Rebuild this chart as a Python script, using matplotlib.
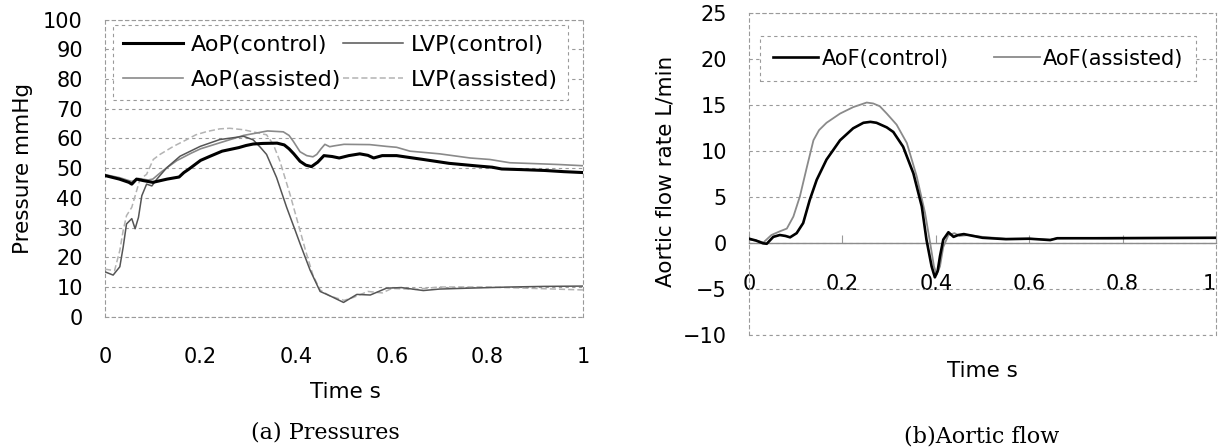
import matplotlib
matplotlib.use("Agg")
import matplotlib.pyplot as plt
import numpy as np

# ---------------- data ----------------
t_aop_ctrl = [0.00, 0.03, 0.05, 0.056, 0.066, 0.08, 0.10, 0.13, 0.155, 0.165, 0.175, 0.20,
              0.22, 0.245, 0.28, 0.295, 0.31, 0.33, 0.36, 0.375, 0.385, 0.395, 0.408, 0.42,
              0.432, 0.445, 0.458, 0.475, 0.49, 0.51, 0.533, 0.55, 0.562, 0.58, 0.61, 0.64,
              0.666, 0.72, 0.78, 0.81, 0.83, 0.87, 0.92, 0.96, 1.00]
aop_ctrl = [47.5, 46.3, 45.2, 44.6, 46.3, 45.8, 45.2, 46.3, 47.0, 48.5, 49.6, 52.6,
            54.0, 55.7, 56.9, 57.6, 58.1, 58.3, 58.4, 57.8, 56.5, 54.8, 52.3, 51.0,
            50.5, 52.0, 54.2, 53.9, 53.4, 54.2, 54.8, 54.3, 53.4, 54.2, 54.2, 53.5,
            52.9, 51.6, 50.7, 50.3, 49.7, 49.5, 49.2, 48.8, 48.5]

t_lvp_ctrl = [0.00, 0.017, 0.031, 0.038, 0.045, 0.056, 0.063, 0.070, 0.077, 0.087, 0.098,
              0.108, 0.129, 0.157, 0.199, 0.24, 0.29, 0.31, 0.325, 0.338, 0.359, 0.38,
              0.398, 0.408, 0.429, 0.45, 0.471, 0.499, 0.527, 0.555, 0.589, 0.62, 0.666,
              0.70, 0.76, 0.85, 0.92, 1.00]
lvp_ctrl = [15.1, 14.0, 16.8, 23.4, 31.2, 33.0, 29.6, 33.4, 40.7, 44.6, 44.0,
            46.2, 50.1, 54.0, 57.3, 59.6, 60.7, 59.5, 57.0, 54.6, 46.8, 36.8,
            29.0, 24.6, 15.7, 8.5, 7.0, 4.8, 7.5, 7.3, 9.6, 9.8, 8.8,
            9.3, 9.6, 10.0, 10.2, 10.3]

t_aop_asst = [0.00, 0.03, 0.056, 0.07, 0.09, 0.10, 0.12, 0.15, 0.18, 0.20, 0.24, 0.27,
              0.29, 0.317, 0.34, 0.373, 0.385, 0.394, 0.408, 0.422, 0.435, 0.443, 0.452,
              0.46, 0.47, 0.48, 0.50, 0.554, 0.589, 0.61, 0.638, 0.70, 0.764, 0.805,
              0.847, 0.90, 0.95, 1.00]
aop_asst = [47.8, 46.8, 45.5, 46.5, 46.0, 46.3, 49.0, 52.5, 55.0, 56.5, 58.5, 60.0,
            61.0, 61.8, 62.5, 62.2, 61.0, 59.0, 55.5, 54.2, 53.8, 54.6, 56.5,
            58.0, 57.2, 57.5, 58.0, 57.9, 57.3, 57.0, 55.7, 54.8, 53.4, 52.9,
            51.8, 51.5, 51.2, 50.8]

t_lvp_asst = [0.00, 0.02, 0.031, 0.038, 0.045, 0.056, 0.066, 0.073, 0.087, 0.101, 0.115,
              0.143, 0.17, 0.19, 0.213, 0.24, 0.261, 0.29, 0.338, 0.352, 0.366, 0.387,
              0.408, 0.42, 0.435, 0.45, 0.47, 0.50, 0.52, 0.55, 0.58, 0.60, 0.65, 0.70,
              0.80, 0.90, 1.00]
lvp_asst = [16.0, 15.5, 22.3, 29.0, 34.0, 36.8, 42.3, 46.2, 47.9, 52.9, 54.6,
            57.3, 59.5, 61.2, 62.3, 63.2, 63.4, 62.9, 61.2, 58.0, 52.3, 41.2,
            29.0, 22.0, 14.0, 9.0, 7.0, 5.5, 6.5, 8.5, 8.0, 9.5, 9.2, 10.0,
            10.0, 9.5, 9.0]

t_aof_ctrl = [0.000, 0.015, 0.030, 0.038, 0.052, 0.066, 0.078, 0.088, 0.102, 0.116, 0.130,
              0.145, 0.166, 0.195, 0.223, 0.245, 0.26, 0.273, 0.295, 0.309, 0.330, 0.352,
              0.370, 0.380, 0.391, 0.398, 0.404, 0.409, 0.416, 0.427, 0.438, 0.448, 0.46,
              0.48, 0.50, 0.55, 0.60, 0.645, 0.66, 0.77, 0.90, 1.00]
aof_ctrl = [0.5, 0.3, 0.0, -0.05, 0.7, 0.9, 0.8, 0.65, 1.1, 2.2, 4.7,
            6.9, 9.1, 11.2, 12.5, 13.1, 13.2, 13.1, 12.6, 12.1, 10.5, 7.6,
            4.0, 0.4, -2.5, -3.7, -3.0, -1.4, 0.4, 1.2, 0.7, 0.9, 1.0,
            0.8, 0.6, 0.45, 0.5, 0.35, 0.55, 0.55, 0.58, 0.6]

t_aof_asst = [0.000, 0.015, 0.031, 0.048, 0.066, 0.081, 0.095, 0.109, 0.124, 0.138, 0.15,
              0.166, 0.195, 0.223, 0.252, 0.266, 0.28, 0.295, 0.316, 0.338, 0.359, 0.377,
              0.388, 0.396, 0.402, 0.409, 0.416, 0.427, 0.44, 0.451, 0.47, 0.50, 0.55,
              0.60, 0.645, 0.66, 0.77, 1.00]
aof_asst = [0.4, 0.3, 0.1, 0.9, 1.3, 1.6, 2.9, 5.1, 8.3, 11.2, 12.3,
            13.1, 14.1, 14.8, 15.3, 15.2, 14.9, 14.1, 12.9, 10.9, 7.3, 3.3,
            0.0, -2.5, -3.4, -2.5, -0.4, 0.9, 1.1, 0.8, 0.9, 0.7, 0.5,
            0.5, 0.4, 0.55, 0.6, 0.6]

x_ticks = [0, 0.2, 0.4, 0.6, 0.8, 1]
x_ticklabels = ["0", "0.2", "0.4", "0.6", "0.8", "1"]
p_ticks = list(range(0, 101, 10))
f_ticks = list(range(-10, 26, 5))

# ---------------- figure ----------------
W, H = 1218, 447
plt.rcParams['font.family'] = ['DejaVu Sans']
fig = plt.figure(figsize=(W / 100, H / 100), dpi=100)

GRID = '#9a9a9a'
DASH = (0, (3, 3))

def px_axes(x0, x1, ytop, ybot):
    return fig.add_axes([x0 / W, (H - ybot) / H, (x1 - x0) / W, (ybot - ytop) / H])

def dashed_frame(leg):
    fr = leg.get_frame()
    fr.set_edgecolor(GRID)
    fr.set_linestyle(DASH)
    fr.set_linewidth(0.8)

# ----- (a) pressures -----
ax1 = px_axes(105, 583, 19.5, 316.7)
ax1.plot(t_lvp_asst, lvp_asst, color='#b3b3b3', lw=1.1, ls=(0, (4, 2)), label='LVP(assisted)', zorder=3)
ax1.plot(t_aop_asst, aop_asst, color='#8a8a8a', lw=1.2, label='AoP(assisted)', zorder=4)
ax1.plot(t_lvp_ctrl, lvp_ctrl, color='#555555', lw=1.1, label='LVP(control)', zorder=4)
ax1.plot(t_aop_ctrl, aop_ctrl, color='black', lw=2.2, label='AoP(control)', zorder=5)
ax1.set_xlim(0, 1)
ax1.set_ylim(0, 100)
ax1.set_xticks(x_ticks)
ax1.set_xticklabels(x_ticklabels)
ax1.set_yticks(p_ticks)
ax1.tick_params(axis='both', length=0, labelsize=15)
ax1.tick_params(axis='x', pad=22)
ax1.tick_params(axis='y', pad=16)
ax1.yaxis.grid(True, color=GRID, lw=0.8, ls=DASH)
for s in ax1.spines.values():
    s.set_color(GRID)
    s.set_linewidth(0.8)
    s.set_linestyle(DASH)
ax1.set_xlabel('Time s', fontsize=15.5, va='center')
ax1.xaxis.set_label_coords(0.502, -0.255)
ax1.set_ylabel('Pressure mmHg', fontsize=15.5, va='center')
ax1.yaxis.set_label_coords(-0.171, 0.5)

h, l = ax1.get_legend_handles_labels()
order = ['AoP(control)', 'AoP(assisted)', 'LVP(control)', 'LVP(assisted)']
hh = [h[l.index(o)] for o in order]
leg1 = ax1.legend(hh, order, ncol=2, mode='expand', loc='upper left',
                  bbox_to_anchor=(0.0167, 0.0, 0.952, 0.983), fontsize=16,
                  handlelength=2.7, handletextpad=0.35, labelspacing=0.7,
                  borderpad=0.45, borderaxespad=0, fancybox=False, framealpha=1)
dashed_frame(leg1)

# ----- (b) aortic flow -----
ax2 = px_axes(749, 1216, 13.3, 335.3)
ax2.plot(t_aof_asst, aof_asst, color='#8a8a8a', lw=1.3, label='AoF(assisted)', zorder=4)
ax2.plot(t_aof_ctrl, aof_ctrl, color='black', lw=1.9, label='AoF(control)', zorder=5)
ax2.set_xlim(0, 1)
ax2.set_ylim(-10, 25)
for k in ['left', 'right', 'top']:
    ax2.spines[k].set_color(GRID)
    ax2.spines[k].set_linewidth(0.8)
    ax2.spines[k].set_linestyle(DASH)
ax2.spines['bottom'].set_position(('data', 0))
ax2.spines['bottom'].set_color('#8c8c8c')
ax2.spines['bottom'].set_linewidth(1.0)
ax2.set_xticks(x_ticks)
ax2.set_xticklabels(x_ticklabels)
ax2.set_yticks(f_ticks)
ax2.yaxis.grid(True, color=GRID, lw=0.8, ls=DASH)
ax2.axhline(-10, color=GRID, lw=0.8, ls=DASH, clip_on=False, zorder=1)
ax2.tick_params(axis='y', length=0, labelsize=15, pad=16)
ax2.tick_params(axis='x', direction='in', length=6, color=GRID, labelsize=15, pad=22)
ax2.set_xlabel('Time s', fontsize=15.5, va='center')
ax2.xaxis.set_label_coords(0.5, -0.11)
ax2.set_ylabel('Aortic flow rate L/min', fontsize=15.5, va='center')
ax2.yaxis.set_label_coords(-0.178, 0.51)

h2, l2 = ax2.get_legend_handles_labels()
order2 = ['AoF(control)', 'AoF(assisted)']
hh2 = [h2[l2.index(o)] for o in order2]
leg2 = ax2.legend(hh2, order2, ncol=2, mode='expand', loc='upper left',
                  bbox_to_anchor=(0.0236, 0.0, 0.934, 0.929), fontsize=15,
                  handlelength=2.2, handletextpad=0.15, borderpad=0.6,
                  borderaxespad=0, fancybox=False, framealpha=1)
dashed_frame(leg2)

# captions
fig.text(325 / W, 1 - 433 / H, '(a) Pressures', family='DejaVu Serif', fontsize=16,
         ha='center', va='center')
fig.text(982 / W, 1 - 437 / H, '(b)Aortic flow', family='DejaVu Serif', fontsize=16,
         ha='center', va='center')

# keep the last tick label of panel (b) inside the figure
fig.canvas.draw()
ax2.xaxis.get_major_ticks()[-1].label1.set_horizontalalignment('right')

fig.savefig('out.png', dpi=100)
